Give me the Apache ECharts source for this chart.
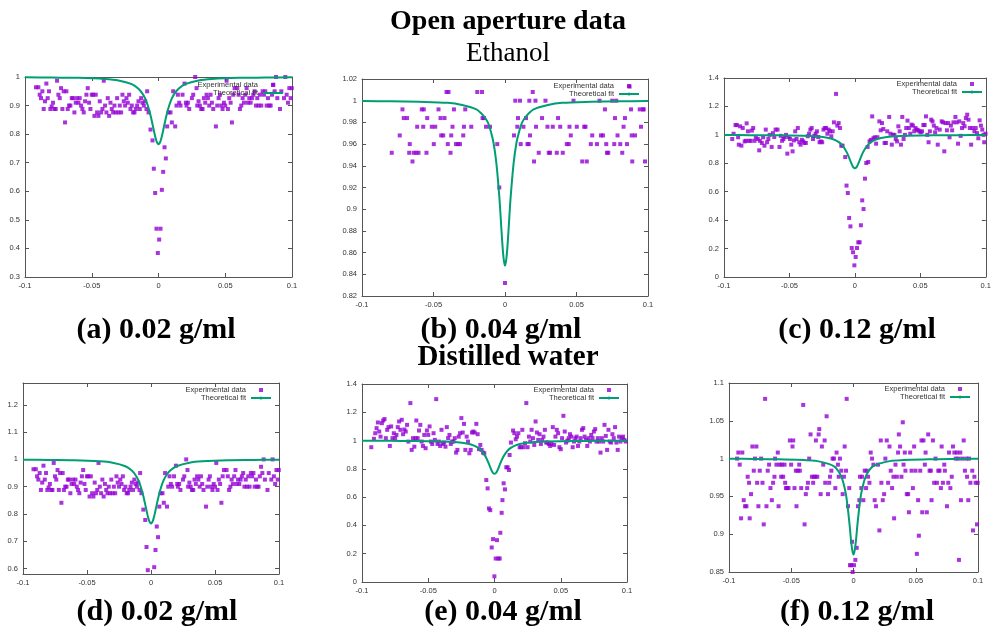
<!DOCTYPE html>
<html>
<head>
<meta charset="utf-8">
<script src="https://cdn.jsdelivr.net/npm/echarts@6/dist/echarts.min.js"></script>
<style>
  html, body { margin: 0; padding: 0; background: #fff; }
  #chart { width: 994px; height: 629px; }
</style>
</head>
<body>
<div id="chart"></div>
<script>
// ---- data ----
// (a) ethanol 0.02 g/ml  (same scan is shown again in (d))
const expA = [[-0.0918,0.964],[-0.090,0.964],[-0.089,0.938],[-0.088,0.926],[-0.087,0.95],[-0.086,0.888],[-0.085,0.915],[-0.084,0.977],[-0.083,0.926],[-0.082,0.95],[-0.081,0.888],[-0.080,0.897],[-0.079,0.91],[-0.078,0.888],[-0.077,0.888],[-0.076,0.987],[-0.075,0.938],[-0.074,0.926],[-0.073,0.961],[-0.072,0.888],[-0.071,0.95],[-0.070,0.841],[-0.069,0.95],[-0.068,0.888],[-0.067,0.9],[-0.066,0.9],[-0.065,0.926],[-0.064,0.926],[-0.063,0.876],[-0.062,0.91],[-0.061,0.926],[-0.060,0.91],[-0.059,0.926],[-0.058,0.9],[-0.057,0.888],[-0.056,0.876],[-0.055,0.915],[-0.054,0.938],[-0.053,0.961],[-0.052,0.91],[-0.051,0.888],[-0.050,0.938],[-0.049,0.938],[-0.048,0.864],[-0.047,0.938],[-0.046,0.876],[-0.045,0.864],[-0.044,0.915],[-0.043,0.876],[-0.042,0.888],[-0.041,0.987],[-0.040,0.9],[-0.039,0.876],[-0.038,0.926],[-0.037,0.864],[-0.036,0.91],[-0.035,0.888],[-0.034,0.876],[-0.033,0.9],[-0.032,0.876],[-0.031,0.926],[-0.030,0.876],[-0.029,0.9],[-0.028,0.876],[-0.027,0.938],[-0.026,0.915],[-0.025,0.9],[-0.024,0.926],[-0.023,0.91],[-0.022,0.938],[-0.021,0.888],[-0.020,0.9],[-0.019,0.876],[-0.018,0.876],[-0.017,0.888],[-0.016,0.9],[-0.015,0.915],[-0.014,0.888],[-0.013,0.926],[-0.012,0.91],[-0.011,0.9],[-0.010,0.915],[-0.009,0.888],[-0.0085,0.95],[-0.0075,0.876],[-0.006,0.816],[-0.0045,0.778],[-0.0035,0.679],[-0.0025,0.594],[-0.0015,0.469],[-0.0005,0.384],[0.0005,0.431],[0.0015,0.469],[0.0025,0.605],[0.0035,0.668],[0.0045,0.754],[0.0055,0.715],[0.0065,0.827],[0.0075,0.876],[0.009,0.876],[0.010,0.841],[0.011,0.95],[0.0125,0.827],[0.0135,0.9],[0.0145,0.938],[0.0155,0.91],[0.0165,0.9],[0.018,0.938],[0.0195,0.977],[0.0205,0.91],[0.021,0.9],[0.022,0.91],[0.023,0.888],[0.025,0.926],[0.026,0.938],[0.0275,1.0],[0.0285,0.961],[0.029,0.9],[0.030,0.915],[0.031,0.9],[0.032,0.888],[0.033,0.888],[0.034,0.926],[0.035,0.91],[0.036,0.938],[0.037,0.926],[0.038,0.9],[0.039,0.938],[0.040,0.91],[0.041,0.888],[0.043,0.827],[0.044,0.9],[0.045,0.926],[0.046,0.938],[0.047,0.9],[0.048,0.888],[0.049,0.91],[0.050,0.9],[0.051,0.987],[0.052,0.888],[0.053,0.926],[0.054,0.91],[0.055,0.841],[0.056,0.938],[0.057,0.961],[0.059,0.961],[0.060,0.938],[0.061,0.888],[0.062,0.9],[0.063,0.926],[0.064,0.91],[0.065,0.938],[0.066,0.961],[0.067,0.91],[0.068,0.926],[0.069,0.91],[0.070,0.926],[0.071,0.938],[0.072,0.95],[0.073,0.9],[0.074,0.926],[0.075,0.9],[0.076,0.938],[0.077,0.9],[0.078,0.95],[0.079,0.938],[0.080,0.95],[0.081,0.9],[0.082,0.926],[0.083,0.9],[0.084,0.9],[0.085,0.938],[0.086,0.973],[0.087,0.95],[0.088,1.0],[0.089,0.926],[0.091,0.888],[0.092,0.95],[0.094,0.926],[0.095,1.0],[0.096,0.938],[0.097,0.91],[0.098,0.961],[0.099,0.926],[0.0998,0.961]];

// (b) ethanol 0.04 g/ml
const expB = [[-0.0792,0.952],[-0.0736,0.968],[-0.0717,0.992],[-0.0708,0.984],[-0.0685,0.984],[-0.0670,0.952],[-0.0666,0.96],[-0.0647,0.944],[-0.0638,0.952],[-0.0620,0.952],[-0.0614,0.976],[-0.0605,0.952],[-0.0582,0.992],[-0.0572,0.976],[-0.0568,0.992],[-0.0549,0.952],[-0.0544,0.984],[-0.0512,0.976],[-0.0498,0.96],[-0.0488,0.976],[-0.0465,0.992],[-0.0451,0.984],[-0.0446,0.968],[-0.0432,0.968],[-0.0423,0.984],[-0.0409,1.008],[-0.0400,0.96],[-0.0395,1.008],[-0.0381,0.952],[-0.0376,0.968],[-0.0367,0.976],[-0.0357,0.992],[-0.0343,0.96],[-0.0329,0.96],[-0.0315,0.96],[-0.0292,0.968],[-0.0287,0.976],[-0.0278,0.992],[-0.0236,0.976],[-0.0194,1.008],[-0.0161,1.008],[-0.0157,0.984],[-0.0147,0.984],[-0.0133,0.976],[-0.0105,0.976],[-0.0054,0.96],[-0.0040,0.92],[0,0.832],[0.0063,0.968],[0.0072,1.0],[0.0086,0.976],[0.0091,0.984],[0.0105,1.0],[0.0110,0.96],[0.0129,0.976],[0.0147,0.984],[0.0157,0.96],[0.0166,0.96],[0.0170,1.0],[0.0175,0.968],[0.0194,1.008],[0.0203,0.944],[0.0213,1.0],[0.0217,0.976],[0.0236,0.952],[0.0259,0.984],[0.0283,1.0],[0.0297,0.976],[0.0306,0.952],[0.0315,0.952],[0.0334,0.976],[0.0362,0.952],[0.0371,0.984],[0.0386,0.976],[0.0404,0.952],[0.0432,0.96],[0.0446,0.96],[0.0451,0.976],[0.0460,0.968],[0.0479,1.0],[0.0502,0.976],[0.0540,0.944],[0.0554,0.976],[0.0563,0.976],[0.0572,0.944],[0.0600,0.96],[0.0610,0.968],[0.0643,0.96],[0.0661,1.0],[0.0671,0.968],[0.0685,0.968],[0.0699,0.992],[0.0708,0.96],[0.0713,0.952],[0.0722,0.952],[0.0750,1.0],[0.0764,0.96],[0.0769,0.984],[0.0778,1.0],[0.0787,0.968],[0.0806,0.96],[0.0820,0.952],[0.0829,0.976],[0.0839,0.984],[0.0853,0.96],[0.0871,1.013],[0.0881,0.992],[0.0886,0.968],[0.0890,0.944],[0.0909,0.968],[0.0942,0.992],[0.0951,0.976],[0.0965,0.992],[0.0970,0.992],[0.0979,0.944]];

// (c) ethanol 0.12 g/ml
const expC = [[-0.0937,0.971],[-0.0927,1.008],[-0.0912,1.069],[-0.0902,1.069],[-0.0892,0.983],[-0.0887,0.931],[-0.0877,1.06],[-0.0867,0.924],[-0.0857,1.048],[-0.0842,0.954],[-0.0832,0.958],[-0.0827,1.081],[-0.0817,1.025],[-0.0807,0.958],[-0.0797,0.958],[-0.0787,1.03],[-0.0777,1.048],[-0.0767,0.958],[-0.0757,0.983],[-0.0742,0.971],[-0.0731,0.891],[-0.0726,0.958],[-0.0711,0.943],[-0.0701,0.983],[-0.0691,0.924],[-0.0681,1.037],[-0.0671,0.948],[-0.0661,0.971],[-0.0651,1.0],[-0.0636,0.915],[-0.0626,1.012],[-0.0616,0.985],[-0.0606,1.037],[-0.0591,1.037],[-0.0576,0.915],[-0.0566,0.993],[-0.0556,0.958],[-0.0546,0.971],[-0.0536,0.985],[-0.0526,1.0],[-0.0516,0.868],[-0.0506,0.985],[-0.0496,0.971],[-0.0486,0.931],[-0.0476,0.884],[-0.0466,0.961],[-0.0456,1.025],[-0.0446,0.971],[-0.0436,1.048],[-0.0425,0.948],[-0.0415,0.931],[-0.0405,0.965],[-0.0395,0.954],[-0.0385,0.943],[-0.0375,0.943],[-0.036,0.99],[-0.035,1.008],[-0.034,1.037],[-0.033,1.048],[-0.032,0.971],[-0.031,0.993],[-0.030,1.008],[-0.029,1.025],[-0.028,0.985],[-0.027,0.948],[-0.026,0.954],[-0.025,0.948],[-0.024,1.037],[-0.023,1.048],[-0.022,1.048],[-0.021,1.008],[-0.020,1.037],[-0.019,1.025],[-0.018,0.99],[-0.017,1.025],[-0.016,1.088],[-0.0144,1.288],[-0.0134,1.065],[-0.0124,1.083],[-0.0114,1.048],[-0.0104,0.924],[-0.0094,0.924],[-0.0074,0.844],[-0.0064,0.643],[-0.0054,0.591],[-0.0044,0.415],[-0.0034,0.356],[-0.0024,0.204],[-0.0014,0.174],[-0.0004,0.082],[0.0006,0.141],[0.0016,0.204],[0.0026,0.244],[0.0036,0.244],[0.0046,0.364],[0.0056,0.539],[0.0066,0.478],[0.0077,0.692],[0.0087,0.802],[0.0097,0.915],[0.0102,0.809],[0.0112,0.954],[0.0122,0.965],[0.0132,1.13],[0.0142,0.976],[0.0152,0.983],[0.0162,0.938],[0.0172,0.983],[0.0187,1.095],[0.0197,1.032],[0.0207,1.083],[0.0217,1.041],[0.0227,0.943],[0.0237,0.943],[0.0247,1.025],[0.0262,1.126],[0.0272,1.008],[0.0282,0.931],[0.0292,1.0],[0.0302,1.0],[0.0312,0.971],[0.0322,0.954],[0.0332,1.06],[0.0342,1.025],[0.0352,0.931],[0.0362,1.126],[0.0372,0.971],[0.0382,1.0],[0.0392,1.048],[0.0402,1.1],[0.0413,1.048],[0.0423,1.008],[0.0433,1.072],[0.0443,1.065],[0.0453,1.025],[0.0463,1.048],[0.0473,1.037],[0.0483,1.032],[0.0493,1.025],[0.0503,1.018],[0.0513,1.025],[0.0523,1.069],[0.0533,1.069],[0.0543,1.13],[0.0553,1.0],[0.0563,0.948],[0.0573,1.025],[0.0583,1.107],[0.0593,1.095],[0.0603,1.065],[0.0613,1.018],[0.0623,1.048],[0.0633,0.931],[0.0648,1.037],[0.0663,1.095],[0.0673,1.088],[0.0683,0.884],[0.0693,1.083],[0.0703,1.032],[0.0713,1.083],[0.0723,0.983],[0.0733,1.065],[0.0743,1.032],[0.0753,1.088],[0.0768,1.126],[0.0778,1.088],[0.0788,0.938],[0.0798,1.095],[0.0808,0.993],[0.0818,1.048],[0.0828,1.083],[0.0838,1.06],[0.0848,1.118],[0.0858,1.142],[0.0868,1.107],[0.0878,1.048],[0.0888,0.931],[0.0898,1.048],[0.0913,1.025],[0.0923,1.048],[0.0933,1.012],[0.0943,0.976],[0.0953,1.102],[0.0963,1.065],[0.0973,1.037],[0.0983,1.0],[0.0988,0.948],[0.0998,1.008]];

// (e) distilled water 0.04 g/ml
const expE = [[-0.093,0.953],[-0.091,1.012],[-0.090,1.052],[-0.089,1.088],[-0.088,1.128],[-0.087,1.064],[-0.086,1.028],[-0.085,1.123],[-0.084,1.142],[-0.083,1.152],[-0.082,1.017],[-0.081,1.076],[-0.080,1.095],[-0.079,0.962],[-0.078,1.1],[-0.077,1.017],[-0.076,1.052],[-0.075,1.017],[-0.074,1.04],[-0.073,1.095],[-0.072,1.135],[-0.071,1.076],[-0.070,1.147],[-0.069,1.045],[-0.068,1.078],[-0.067,1.064],[-0.066,1.111],[-0.065,0.993],[-0.0635,1.265],[-0.0625,0.934],[-0.0615,1.017],[-0.0605,0.957],[-0.0595,1.017],[-0.059,1.142],[-0.058,1.017],[-0.057,1.071],[-0.056,1.111],[-0.055,0.993],[-0.054,0.962],[-0.053,1.04],[-0.052,0.946],[-0.051,1.071],[-0.050,1.04],[-0.049,1.1],[-0.048,0.993],[-0.047,0.976],[-0.046,1.052],[-0.045,1.005],[-0.044,1.293],[-0.043,0.976],[-0.042,0.993],[-0.041,0.962],[-0.040,1.076],[-0.039,0.976],[-0.038,0.986],[-0.037,0.957],[-0.036,1.095],[-0.035,1.017],[-0.034,1.04],[-0.033,0.976],[-0.032,0.993],[-0.031,0.993],[-0.030,1.017],[-0.029,0.915],[-0.028,0.934],[-0.027,1.028],[-0.026,1.052],[-0.025,1.159],[-0.024,1.057],[-0.023,1.118],[-0.022,0.934],[-0.021,1.028],[-0.020,0.993],[-0.019,0.91],[-0.018,0.934],[-0.017,1.057],[-0.016,1.064],[-0.015,1.057],[-0.0137,1.118],[-0.0127,1.045],[-0.0117,0.939],[-0.0107,0.969],[-0.0097,0.934],[-0.0087,0.915],[-0.0077,0.91],[-0.0062,0.721],[-0.0052,0.662],[-0.0042,0.52],[-0.0032,0.508],[-0.0021,0.244],[-0.0011,0.303],[-0.0001,0.04],[0.0009,0.166],[0.0019,0.296],[0.0029,0.166],[0.0039,0.166],[0.0044,0.348],[0.0054,0.489],[0.006,0.579],[0.0069,0.698],[0.0079,0.655],[0.0089,0.811],[0.0099,0.811],[0.0109,0.792],[0.0114,0.898],[0.0124,0.986],[0.014,1.071],[0.015,1.052],[0.016,1.009],[0.017,1.028],[0.018,1.052],[0.019,0.953],[0.020,0.953],[0.021,1.076],[0.022,0.953],[0.023,0.981],[0.024,1.265],[0.025,0.953],[0.026,1.028],[0.027,0.993],[0.028,1.076],[0.029,1.017],[0.030,0.969],[0.031,1.135],[0.032,1.057],[0.033,1.005],[0.034,1.045],[0.035,0.976],[0.036,1.005],[0.037,1.028],[0.038,1.076],[0.039,0.986],[0.040,0.986],[0.041,0.976],[0.042,0.962],[0.043,0.976],[0.044,1.095],[0.045,0.969],[0.046,1.028],[0.047,1.076],[0.048,1.052],[0.049,0.953],[0.050,0.939],[0.051,1.017],[0.052,1.175],[0.053,1.064],[0.054,0.986],[0.055,1.0],[0.056,1.017],[0.057,1.045],[0.058,1.028],[0.059,0.953],[0.060,0.993],[0.061,1.017],[0.062,1.028],[0.063,0.962],[0.064,0.993],[0.065,1.017],[0.066,1.076],[0.067,1.088],[0.068,1.028],[0.069,1.005],[0.070,0.962],[0.071,1.017],[0.072,0.993],[0.073,1.04],[0.074,1.017],[0.075,1.064],[0.076,1.081],[0.077,0.993],[0.078,1.017],[0.079,0.993],[0.080,0.915],[0.081,1.017],[0.082,0.993],[0.083,1.111],[0.084,1.033],[0.085,0.934],[0.086,1.076],[0.087,0.993],[0.088,0.986],[0.089,1.045],[0.090,1.017],[0.091,1.095],[0.092,0.986],[0.093,0.934],[0.094,1.028],[0.095,0.993],[0.096,1.017],[0.097,1.028],[0.098,1.005],[0.099,0.993]];

// (f) distilled water 0.12 g/ml
const expF = [[-0.0935,1.0],[-0.0925,1.008],[-0.0914,0.992],[-0.0903,0.921],[-0.0893,1.008],[-0.0882,0.945],[-0.0871,0.937],[-0.0860,0.937],[-0.0850,0.976],[-0.0839,0.968],[-0.0834,0.921],[-0.0823,0.953],[-0.0812,1.016],[-0.0801,0.984],[-0.0791,1.0],[-0.0780,1.016],[-0.0774,0.968],[-0.0764,0.937],[-0.0753,0.984],[-0.0742,1.0],[-0.0731,0.968],[-0.0721,0.913],[-0.0710,1.079],[-0.0699,0.937],[-0.0689,0.984],[-0.0678,0.992],[-0.0667,0.961],[-0.0656,0.945],[-0.0646,0.968],[-0.0635,0.976],[-0.0630,1.0],[-0.0619,0.992],[-0.0608,1.008],[-0.0602,0.937],[-0.0592,0.992],[-0.0581,0.976],[-0.0576,0.992],[-0.0565,0.976],[-0.0554,0.992],[-0.0549,0.968],[-0.0543,0.961],[-0.0533,0.961],[-0.0522,0.961],[-0.0511,1.024],[-0.0501,0.992],[-0.0490,1.016],[-0.0484,1.024],[-0.0474,0.961],[-0.0463,0.984],[-0.0458,0.937],[-0.0447,0.984],[-0.0436,0.992],[-0.0431,0.984],[-0.0420,0.961],[-0.0404,1.071],[-0.0393,0.913],[-0.0383,0.953],[-0.0372,0.961],[-0.0366,0.968],[-0.0356,1.0],[-0.0345,1.032],[-0.0334,0.976],[-0.0324,0.968],[-0.0318,0.976],[-0.0307,0.976],[-0.0302,1.024],[-0.0291,0.976],[-0.0280,1.032],[-0.0275,1.039],[-0.0264,0.953],[-0.0254,1.016],[-0.0243,0.992],[-0.0232,1.024],[-0.0227,0.968],[-0.0216,1.056],[-0.0205,0.953],[-0.0195,0.968],[-0.0189,0.976],[-0.0178,0.984],[-0.0168,1.0],[-0.0157,1.0],[-0.0146,0.961],[-0.0136,1.008],[-0.0125,0.992],[-0.0119,0.976],[-0.0109,1.0],[-0.0098,0.984],[-0.0087,0.953],[-0.0077,0.976],[-0.0071,1.016],[-0.0060,0.984],[-0.0055,1.079],[-0.0044,0.937],[-0.0034,0.961],[-0.0028,0.859],[-0.0017,0.859],[-0.0012,0.890],[-0.0007,0.850],[0.0004,0.859],[0.0015,0.866],[0.0026,0.882],[0.0036,0.937],[0.0047,0.945],[0.0052,0.976],[0.0063,0.961],[0.0068,0.976],[0.0079,0.945],[0.0090,0.984],[0.0101,0.961],[0.0106,0.984],[0.0117,0.976],[0.0128,0.968],[0.0138,1.008],[0.0149,1.0],[0.0160,0.992],[0.0170,0.945],[0.0181,0.937],[0.0197,0.992],[0.0208,0.905],[0.0219,1.024],[0.0224,0.968],[0.0235,0.945],[0.0246,0.953],[0.0256,1.0],[0.0267,1.024],[0.0278,0.968],[0.0289,1.016],[0.0299,0.984],[0.0310,0.961],[0.0321,0.976],[0.0326,0.921],[0.0337,0.992],[0.0348,0.976],[0.0358,1.008],[0.0364,1.032],[0.0374,1.016],[0.0385,0.976],[0.0396,1.048],[0.0402,0.992],[0.0412,1.008],[0.0417,0.984],[0.0428,0.953],[0.0439,0.953],[0.0445,0.929],[0.0455,1.008],[0.0466,0.984],[0.0477,0.961],[0.0487,1.016],[0.0498,0.984],[0.0509,0.874],[0.0519,0.945],[0.0525,0.898],[0.0536,0.984],[0.0546,1.024],[0.0552,0.929],[0.0562,1.024],[0.0573,0.992],[0.0579,1.008],[0.0589,0.929],[0.0600,1.032],[0.0611,0.984],[0.0621,0.984],[0.0627,0.945],[0.0638,1.024],[0.0648,0.968],[0.0659,1.0],[0.0670,0.968],[0.0681,0.984],[0.0691,0.984],[0.0702,0.961],[0.0708,1.016],[0.0718,0.968],[0.0729,0.992],[0.0734,0.984],[0.0751,0.937],[0.0761,0.968],[0.0767,1.008],[0.0778,0.961],[0.0789,0.976],[0.0799,1.016],[0.0810,1.008],[0.0821,1.0],[0.0831,1.008],[0.0842,1.0],[0.0847,0.866],[0.0858,1.008],[0.0863,0.945],[0.0874,1.0],[0.0885,1.024],[0.0895,0.984],[0.0906,1.0],[0.0912,0.976],[0.0922,0.945],[0.0928,1.0],[0.0939,0.968],[0.0954,0.984],[0.0960,0.905],[0.0971,0.976],[0.0981,0.968],[0.0992,0.913],[0.0997,0.968]];

// theoretical fit curves, sampled at fitX
const fitX  = [-0.1,-0.08,-0.06,-0.04,-0.03,-0.02,-0.015,-0.012,-0.01,-0.008,-0.006,-0.004,-0.003,-0.002,-0.001,0,0.001,0.002,0.003,0.004,0.006,0.008,0.01,0.012,0.015,0.02,0.03,0.04,0.06,0.08,0.1];
const fitYA = [0.999,0.998,0.997,0.993,0.988,0.975,0.959,0.942,0.925,0.9,0.866,0.824,0.802,0.783,0.77,0.765,0.77,0.783,0.802,0.824,0.866,0.9,0.925,0.942,0.959,0.975,0.988,0.993,0.997,0.998,0.999];
const fitYB = [0.9997,0.9995,0.999,0.998,0.996,0.992,0.986,0.98,0.972,0.961,0.942,0.912,0.892,0.871,0.855,0.848,0.855,0.871,0.892,0.912,0.942,0.961,0.972,0.98,0.986,0.992,0.996,0.998,0.999,0.9995,0.9997];
const fitYC = [0.999,0.998,0.997,0.994,0.99,0.978,0.963,0.947,0.93,0.906,0.873,0.83,0.806,0.785,0.77,0.765,0.77,0.785,0.806,0.83,0.873,0.906,0.93,0.947,0.963,0.978,0.99,0.994,0.997,0.998,0.999];
const fitYE = [0.999,0.998,0.997,0.994,0.99,0.978,0.963,0.947,0.93,0.906,0.873,0.83,0.806,0.785,0.77,0.765,0.77,0.785,0.806,0.83,0.873,0.906,0.93,0.947,0.963,0.978,0.99,0.994,0.997,0.998,0.999];
const fitYF = [0.9997,0.9996,0.9992,0.998,0.997,0.993,0.989,0.983,0.977,0.967,0.952,0.926,0.91,0.892,0.879,0.873,0.879,0.892,0.91,0.926,0.952,0.967,0.977,0.983,0.989,0.993,0.997,0.998,0.9992,0.9996,0.9997];

// y tick labels of panel (d), whose range does not start on a tick
const ticksD = [0.6, 0.7, 0.8, 0.9, 1.0, 1.1, 1.2];

// ---- layout ----
const panels = [
  { exp: expA, fitY: fitYA, box: [25, 77, 267, 200], yMin: 0.3, yMax: 1, yInt: 0.1, legend: [710, 81] },
  { exp: expB, fitY: fitYB, box: [362, 79, 286, 217], yMin: 0.82, yMax: 1.02, yInt: 0.02, legend: [354, 82] },
  { exp: expC, fitY: fitYC, box: [724, 78, 266, 199], yMin: 0, yMax: 1.4, yInt: 0.2, legend: [11, 80] },
  { exp: expA, fitY: fitYA, box: [23, 383, 256, 191], yMin: 0.58, yMax: 1.28, yTicks: ticksD, legend: [722, 386] },
  { exp: expE, fitY: fitYE, box: [362, 384, 265, 198], yMin: 0, yMax: 1.4, yInt: 0.2, legend: [374, 386] },
  { exp: expF, fitY: fitYF, box: [729, 383, 249, 189], yMin: 0.85, yMax: 1.1, yInt: 0.05, legend: [23, 385] }
];

const PURPLE = "#9400d3";
const GREEN = "#009e73";
const BORDER = "#555";
const SANS = "'Liberation Sans', Arial, sans-serif";
const SERIF = "'Liberation Serif', 'Times New Roman', serif";

function axisCommon(showLabel, ticks) {
  const a = {
    axisLine: { show: true, onZero: false, lineStyle: { color: BORDER, width: 1 } },
    axisTick: { show: true, inside: true, length: 4, lineStyle: { color: BORDER } },
    axisLabel: { show: showLabel, fontSize: 7.5, color: "#333", margin: 5, fontFamily: SANS, hideOverlap: false },
    splitLine: { show: false }
  };
  if (ticks) {
    a.axisTick.customValues = ticks;
    a.axisLabel.customValues = ticks;
  }
  return a;
}

const grids = [], xAxes = [], yAxes = [], series = [], legends = [];

panels.forEach((p, i) => {
  grids.push({ left: p.box[0], top: p.box[1], width: p.box[2], height: p.box[3], containLabel: false });

  ["bottom", "top"].forEach(pos => {
    xAxes.push(Object.assign({
      type: "value", gridIndex: i, position: pos, min: -0.1, max: 0.1, interval: 0.05
    }, axisCommon(pos === "bottom")));
  });
  ["left", "right"].forEach(pos => {
    const y = Object.assign({
      type: "value", gridIndex: i, position: pos, min: p.yMin, max: p.yMax
    }, axisCommon(pos === "left", p.yTicks));
    if (p.yInt) y.interval = p.yInt;
    yAxes.push(y);
  });

  series.push({
    name: "Experimental data",
    type: "scatter",
    xAxisIndex: 2 * i,
    yAxisIndex: 2 * i,
    symbol: "rect",
    symbolSize: 4,
    itemStyle: { color: PURPLE },
    data: p.exp
  });
  series.push({
    name: "Theoretical fit",
    type: "line",
    xAxisIndex: 2 * i,
    yAxisIndex: 2 * i,
    symbol: "none",
    smooth: 0.3,
    lineStyle: { color: GREEN, width: 2 },
    itemStyle: { color: GREEN },
    data: fitX.map((x, k) => [x, p.fitY[k]])
  });

  legends.push({
    orient: "vertical",
    align: "right",
    right: p.legend[0],
    top: p.legend[1],
    itemWidth: 20,
    itemHeight: 4,
    itemGap: 0,
    padding: 0,
    selectedMode: false,
    textStyle: { fontSize: 7.5, color: "#333", fontFamily: SANS },
    data: [
      { name: "Experimental data", icon: "path://M0,0L10,0L10,10L0,10Z" },
      { name: "Theoretical fit" }
    ]
  });
});

function label(text, x, y, font) {
  return {
    type: "text", x: x, y: y,
    style: {
      text: text, font: font, fill: "#000",
      textAlign: "center", textVerticalAlign: "middle",
      align: "center", verticalAlign: "middle"
    }
  };
}

const graphics = [
  label("Open aperture data", 508, 22, "bold 28px " + SERIF),
  label("Ethanol", 508, 54, "27px " + SERIF),
  label("(a) 0.02 g/ml", 156, 330, "bold 30px " + SERIF),
  label("(b) 0.04 g/ml", 501, 330, "bold 30px " + SERIF),
  label("(c) 0.12 g/ml", 857, 330, "bold 30px " + SERIF),
  label("Distilled water", 508, 358, "bold 29px " + SERIF),
  label("(d) 0.02 g/ml", 157, 612, "bold 30px " + SERIF),
  label("(e) 0.04 g/ml", 503, 612, "bold 30px " + SERIF),
  label("(f) 0.12 g/ml", 857, 612, "bold 30px " + SERIF)
];

const chart = echarts.init(document.getElementById("chart"), null, { renderer: "canvas" });
chart.setOption({
  animation: false,
  backgroundColor: "#fff",
  grid: grids,
  xAxis: xAxes,
  yAxis: yAxes,
  legend: legends,
  graphic: graphics,
  series: series
});
</script>
</body>
</html>
